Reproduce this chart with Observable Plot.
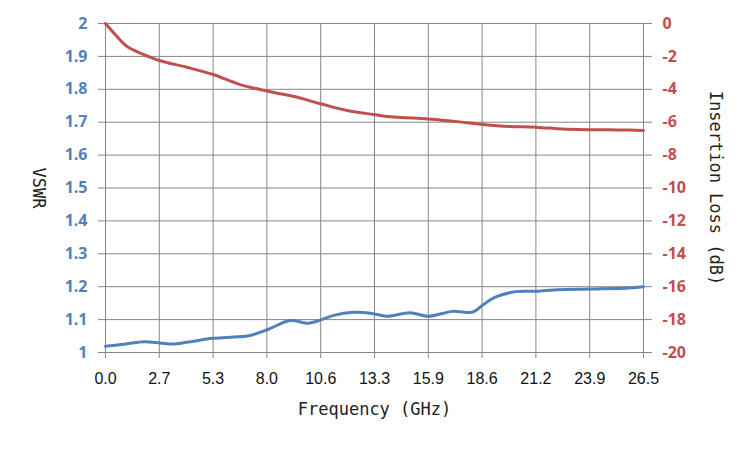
<!DOCTYPE html>
<html>
<head>
<meta charset="utf-8">
<script src="https://cdn.jsdelivr.net/npm/d3@7"></script>
<script src="https://cdn.jsdelivr.net/npm/@observablehq/plot@0.6"></script>
<style>
  body { margin: 0; background: #fff; }
  #chart svg { display: block; }
</style>
</head>
<body>
<div id="chart"></div>
<script>
// VSWR series (left axis)
const vswrFreq = [0, 1.0, 1.9, 2.7, 3.3, 4.0, 5.3, 6.3, 7.0, 8.0, 9.1, 10.0, 10.6, 11.2, 12.2, 13.2, 13.9, 15.0, 15.9, 17.1, 18.1, 18.6, 19.2, 20.2, 21.2, 22.3, 23.9, 25.8, 26.5];
const vswrValues = [1.019, 1.026, 1.033, 1.029, 1.026, 1.031, 1.043, 1.047, 1.050, 1.070, 1.097, 1.089, 1.099, 1.112, 1.122, 1.118, 1.110, 1.121, 1.110, 1.125, 1.123, 1.145, 1.168, 1.185, 1.186, 1.191, 1.193, 1.196, 1.200];

// Insertion loss series (right axis, dB)
const ilFreq = [0, 0.5, 1.07, 1.72, 2.65, 4.0, 5.3, 6.6, 8.0, 9.3, 10.6, 11.9, 13.2, 14.2, 15.9, 17.2, 18.6, 19.9, 21.2, 22.5, 23.9, 25.2, 26.5];
const ilValues = [0, -0.7, -1.4, -1.8, -2.25, -2.66, -3.1, -3.7, -4.12, -4.44, -4.88, -5.29, -5.53, -5.69, -5.8, -5.95, -6.14, -6.26, -6.3, -6.42, -6.46, -6.47, -6.5];

// Axis ticks
const xTicks = [0, 2.65, 5.3, 7.95, 10.6, 13.25, 15.9, 18.55, 21.2, 23.85, 26.5];
const xTickLabels = ["0.0", "2.7", "5.3", "8.0", "10.6", "13.3", "15.9", "18.6", "21.2", "23.9", "26.5"];
const vswrTicks = [1, 1.1, 1.2, 1.3, 1.4, 1.5, 1.6, 1.7, 1.8, 1.9, 2];
const vswrTickLabels = ["1", "1.1", "1.2", "1.3", "1.4", "1.5", "1.6", "1.7", "1.8", "1.9", "2"];
const ilTicks = [-20, -18, -16, -14, -12, -10, -8, -6, -4, -2, 0];

const BLUE = "#4F81BD";
const RED = "#C0504D";
const GRID = "#878787";
const TITLE_FONT = "'DejaVu Sans Mono', monospace";

// map dB onto the VSWR scale domain [1, 2] (right axis domain [-20, 0])
const ilToY = v => 2 + v / 20;
const yToIl = y => Math.round((y - 2) * 20);

const vswrData = vswrFreq.map((f, i) => ({f, v: vswrValues[i]}));
const ilData = ilFreq.map((f, i) => ({f, v: ilValues[i]}));

const xLabelMap = new Map(xTicks.map((t, i) => [t, xTickLabels[i]]));
const yLabelMap = new Map(vswrTicks.map((t, i) => [t, vswrTickLabels[i]]));

const chart = Plot.plot({
  width: 750,
  height: 450,
  marginLeft: 105,
  marginRight: 107,
  marginTop: 23,
  marginBottom: 98,
  style: {background: "#fff"},
  x: {domain: [0, 26.5]},
  y: {domain: [1, 2]},
  marks: [
    Plot.gridX(xTicks, {stroke: GRID, strokeOpacity: 1, strokeWidth: 1}),
    Plot.gridY(vswrTicks, {stroke: GRID, strokeOpacity: 1, strokeWidth: 1}),
    Plot.axisX(xTicks, {
      anchor: "bottom", tickSize: 6, tickPadding: 14,
      stroke: GRID, fill: "#111",
      tickFormat: d => xLabelMap.get(d),
      fontFamily: "'Liberation Sans', Arial, sans-serif", fontSize: 16, label: null
    }),
    Plot.axisY(vswrTicks, {
      anchor: "left", tickSize: 7, tickPadding: 11,
      stroke: GRID, fill: BLUE,
      tickFormat: d => yLabelMap.get(d),
      fontFamily: "'Open Sans'", fontWeight: "bold", fontSize: 16, label: null
    }),
    Plot.axisY(ilTicks.map(ilToY), {
      anchor: "right", tickSize: 8, tickPadding: 11,
      stroke: GRID, fill: RED,
      tickFormat: d => String(yToIl(d)),
      fontFamily: "'Open Sans'", fontWeight: "bold", fontSize: 16, label: null
    }),
    Plot.line(ilData, {x: "f", y: d => ilToY(d.v), stroke: RED, strokeWidth: 3, curve: "catmull-rom"}),
    Plot.line(vswrData, {x: "f", y: "v", stroke: BLUE, strokeWidth: 3, curve: "catmull-rom"}),
    Plot.text(["VSWR"], {frameAnchor: "left", dx: -67, rotate: 90, textAnchor: "middle", fontFamily: TITLE_FONT, fontSize: 17, fill: "#222"}),
    Plot.text(["Insertion Loss (dB)"], {frameAnchor: "right", dx: 72, rotate: 90, textAnchor: "middle", fontFamily: TITLE_FONT, fontSize: 17, fill: "#222"}),
    Plot.text(["Frequency (GHz)"], {frameAnchor: "bottom", dy: 62, textAnchor: "middle", fontFamily: TITLE_FONT, fontSize: 17, fill: "#222"})
  ]
});
document.getElementById("chart").appendChild(chart);
</script>
</body>
</html>
